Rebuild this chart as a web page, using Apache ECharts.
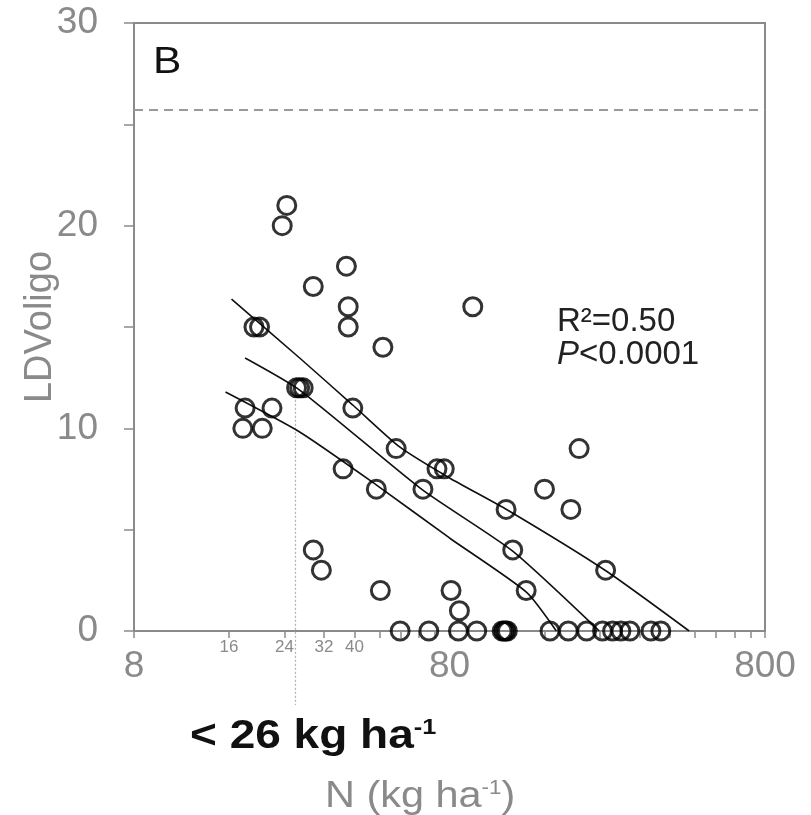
<!DOCTYPE html>
<html>
<head>
<meta charset="utf-8">
<script src="https://cdn.jsdelivr.net/npm/echarts@6/dist/echarts.min.js"></script>
<style>
  html, body { margin: 0; padding: 0; background: #fff; }
  #chart { width: 811px; height: 815px; }
</style>
</head>
<body>
<div id="chart"></div>
<script>
// Site observations: N load (kg ha-1) and LDVoligo
const nLoad = [
  24.4, 23.6, 37.7, 29.6, 38.2, 38.2, 94.8, 49.2,
  19.2, 20.0,
  26.2, 26.8, 27.5,
  18.0, 21.9, 39.5,
  17.7, 20.4,
  54.2, 206,
  36.8, 73, 77,
  46.9, 65.9, 160,
  120.9, 194,
  29.6, 126.9,
  31.4, 250,
  48.3, 80.9, 140,
  86,
  55.8, 68.8, 85.4, 97.6, 117.5, 119, 120.5, 122, 166.6, 190.4, 217.6, 244.4, 263, 279.5, 298.5, 348, 374
];
const ldvOligo = [
  21, 20, 18, 17, 16, 15, 16, 14,
  15, 15,
  12, 12, 12,
  11, 11, 11,
  10, 10,
  9, 9,
  8, 8, 8,
  7, 7, 7,
  6, 6,
  4, 4,
  3, 3,
  2, 2, 2,
  1,
  0, 0, 0, 0, 0, 0, 0, 0, 0, 0, 0, 0, 0, 0, 0, 0, 0
];

// Fitted regression and its confidence band
const fitN = [18.0, 26.8, 65.7, 126.6, 238.7];
const fitY = [13.47, 11.89, 6.96, 3.95, 0];
const upperN = [16.3, 26.8, 39.5, 55.6, 80, 122.1, 251, 460];
const upperY = [16.38, 13.47, 11.15, 9.08, 7.55, 5.97, 2.96, 0];
const lowerN = [15.6, 26.8, 47.0, 80, 140.2, 174.5];
const lowerY = [11.79, 9.82, 7.2, 4.59, 1.92, 0];

// Reference levels
const thresholdN = 26;          // "< 26 kg ha-1"
const thresholdTop = 12;
const thresholdBottom = -3.65;  // the guide runs down past the axis to its label
const dashedLevel = 25.7;

// Axis ticks and labels
const xMajorLabels = [8, 80, 800];
const xMinorLabels = [16, 24, 32, 40];
const xTicks = [8, 16, 24, 32, 40, 48, 56, 64, 72, 80, 160, 240, 320, 400, 480, 560, 640, 720, 800];
const yLabelStep = 10;

const zip = (a, b) => a.map((v, i) => [v, b[i]]);

const FONT = 'Liberation Sans, Arial, sans-serif';
const GRAY = '#8a8a8a';
const chart = echarts.init(document.getElementById('chart'), null, { renderer: 'canvas' });

const bandLine = (name, n, y) => ({
  type: 'line', name, xAxisIndex: 0, data: zip(n, y),
  symbol: 'none', smooth: 0.2, silent: true, z: 2,
  lineStyle: { color: '#111', width: 1.6 }
});

chart.setOption({
  animation: false,
  backgroundColor: '#fff',
  grid: {
    left: 134, right: 46, top: 23, bottom: 184,
    show: true, borderColor: GRAY, borderWidth: 2,
    containLabel: false, outerBoundsMode: 'none'
  },
  xAxis: [
    {
      type: 'log', logBase: 10, min: 8, max: 800,
      axisLine: { show: true, lineStyle: { color: GRAY, width: 2 } },
      axisTick: { show: true, customValues: xTicks, length: 7, lineStyle: { color: GRAY, width: 1.5 } },
      axisLabel: { customValues: xMajorLabels, fontSize: 37, color: GRAY, margin: 17, fontFamily: FONT },
      splitLine: { show: false }
    },
    {
      type: 'log', logBase: 10, min: 8, max: 800, position: 'bottom',
      axisLine: { show: false },
      axisTick: { show: false },
      axisLabel: { customValues: xMinorLabels, fontSize: 17, color: GRAY, margin: 8, fontFamily: FONT },
      splitLine: { show: false }
    }
  ],
  yAxis: {
    type: 'value', min: 0, max: 30, interval: 5,
    axisLine: { show: true, lineStyle: { color: GRAY, width: 2 } },
    axisTick: { show: true, length: 10, lineStyle: { color: GRAY, width: 1.5 } },
    axisLabel: {
      fontSize: 37, color: GRAY, margin: 36, fontFamily: FONT,
      formatter: v => (v % yLabelStep === 0 ? String(v) : '')
    },
    splitLine: { show: false },
    name: 'LDVoligo', nameLocation: 'middle', nameGap: 74, nameMoveOverlap: false,
    nameTextStyle: { fontSize: 38, color: GRAY, fontFamily: FONT }
  },
  series: [
    {
      type: 'line', name: 'threshold', xAxisIndex: 0,
      data: [[thresholdN, thresholdTop], [thresholdN, thresholdBottom]],
      clip: false, symbol: 'none', silent: true, z: 1,
      lineStyle: { color: '#b0b0b0', width: 1.2, type: [2, 2] },
      markLine: {
        silent: true, symbol: ['none', 'none'], label: { show: false },
        lineStyle: { color: '#9a9a9a', width: 2.2, type: [9, 6] },
        data: [{ yAxis: dashedLevel }]
      }
    },
    bandLine('upper', upperN, upperY),
    bandLine('fit', fitN, fitY),
    bandLine('lower', lowerN, lowerY),
    {
      type: 'scatter', name: 'sites', xAxisIndex: 0, data: zip(nLoad, ldvOligo),
      symbol: 'circle', symbolSize: 18, clip: false, z: 3,
      itemStyle: { color: 'rgba(0,0,0,0)', borderColor: '#000', borderWidth: 3 }
    }
  ],
  graphic: [
    {
      type: 'text', x: 153, y: 63, scaleX: 1.15,
      style: { text: 'B', fontSize: 37, fill: '#111', fontFamily: FONT, verticalAlign: 'middle' }
    },
    {
      type: 'text', x: 557, y: 322,
      style: { text: 'R²=0.50', fontSize: 33, fill: '#222', fontFamily: FONT, verticalAlign: 'middle' }
    },
    {
      type: 'text', x: 557, y: 355,
      style: {
        text: '{i|P}<0.0001', fontSize: 33, fill: '#222', fontFamily: FONT, verticalAlign: 'middle',
        rich: { i: { fontStyle: 'italic', fontSize: 33, fill: '#222', fontFamily: FONT } }
      }
    },
    {
      type: 'text', x: 190, y: 737, scaleX: 1.15,
      style: {
        text: '< 26 kg ha{s|-1}', fontSize: 40, fontWeight: 'bold', fill: '#111',
        fontFamily: FONT, verticalAlign: 'middle',
        rich: { s: { fontSize: 22, fontWeight: 'bold', verticalAlign: 'top', fill: '#111', fontFamily: FONT } }
      }
    },
    {
      type: 'text', x: 325, y: 797, scaleX: 1.12,
      style: {
        text: 'N (kg ha{s|-1})', fontSize: 37, fill: GRAY, fontFamily: FONT, verticalAlign: 'middle',
        rich: { s: { fontSize: 20, verticalAlign: 'top', fill: GRAY, fontFamily: FONT } }
      }
    }
  ]
});
</script>
</body>
</html>
